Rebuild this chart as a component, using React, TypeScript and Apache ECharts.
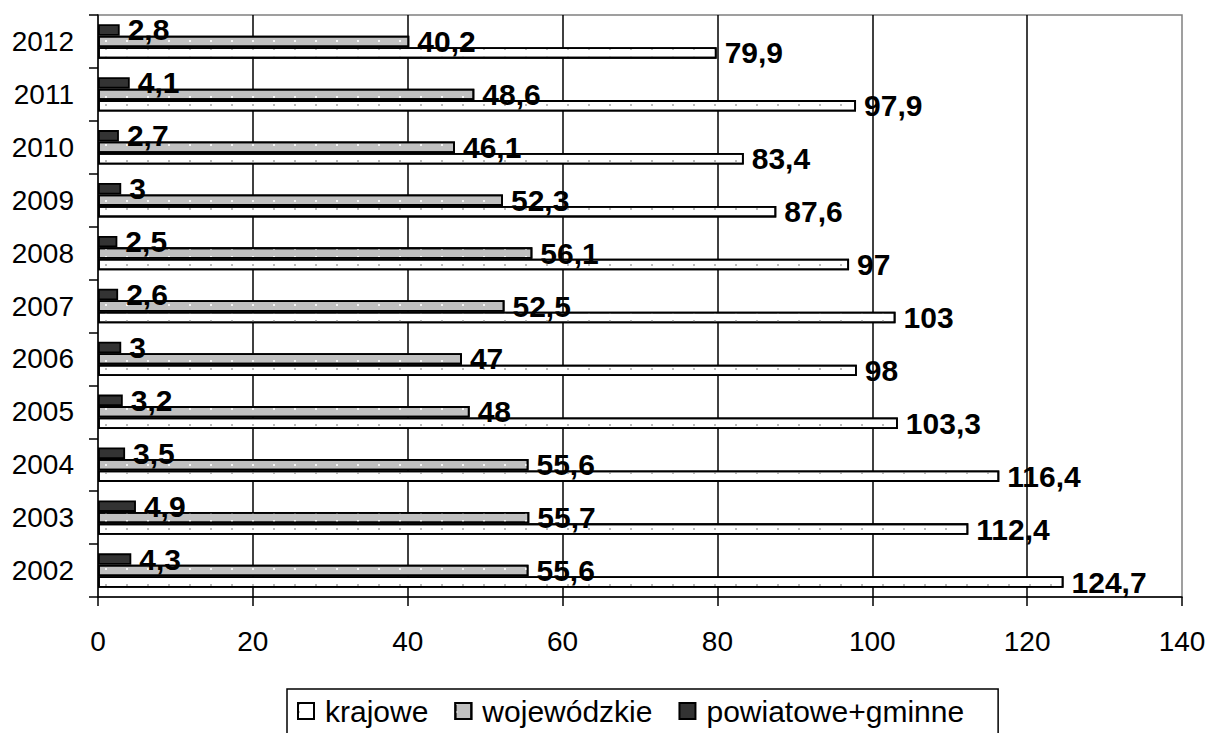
import React, { useEffect, useRef } from "react";
import * as echarts from "echarts";

const years = ["2002", "2003", "2004", "2005", "2006", "2007", "2008", "2009", "2010", "2011", "2012"];
const krajowe = [124.7, 112.4, 116.4, 103.3, 98, 103, 97, 87.6, 83.4, 97.9, 79.9];
const wojewodzkie = [55.6, 55.7, 55.6, 48, 47, 52.5, 56.1, 52.3, 46.1, 48.6, 40.2];
const powiatowe = [4.3, 4.9, 3.5, 3.2, 3, 2.6, 2.5, 3, 2.7, 4.1, 2.8];
const seriesNames = ["krajowe", "wojewódzkie", "powiatowe+gminne"];

const FONT = "'Liberation Sans', Arial, sans-serif";

export default function App() {
  const ref = useRef<HTMLDivElement>(null);
  useEffect(() => {
    const chart = echarts.init(ref.current!, null, { renderer: "svg" });
    const label = {
      show: true,
      position: "right",
      distance: 8,
      color: "#000",
      fontFamily: FONT,
      fontSize: 30,
      fontWeight: "bold",
      formatter: (p: any) => String(p.value).replace(".", ","),
    };
    const mk = (name: string, data: number[], color: string, decal?: any) => ({
      name,
      type: "bar",
      data,
      barGap: "0%",
      barCategoryGap: "35%",
      itemStyle: { color, borderColor: "#000", borderWidth: 1.8, decal },
      label,
    });
    chart.setOption({
      animation: false,
      backgroundColor: "#fff",
      textStyle: { fontFamily: FONT },
      grid: {
        left: 98,
        right: 29,
        top: 15,
        bottom: 136,
        show: true,
        borderColor: "#808080",
        borderWidth: 1.5,
        backgroundColor: "transparent",
      },
      legend: {
        data: seriesNames,
        left: 287,
        top: 689,
        orient: "horizontal",
        itemWidth: 16,
        itemHeight: 16,
        itemGap: 26,
        borderColor: "#000",
        borderWidth: 1.5,
        borderRadius: 0,
        padding: [7, 34, 20, 10],
        icon: "rect",
        textStyle: { fontFamily: FONT, fontSize: 30, color: "#000", padding: [0, 0, 0, 6] },
      },
      xAxis: {
        type: "value",
        min: 0,
        max: 140,
        interval: 20,
        axisLine: { show: true, lineStyle: { color: "#000", width: 1.5 } },
        axisTick: { show: true, length: 9, lineStyle: { color: "#000", width: 1.5 } },
        axisLabel: { color: "#000", fontSize: 28, fontFamily: FONT, margin: 30 },
        splitLine: {
          show: true,
          showMinLine: false,
          showMaxLine: false,
          lineStyle: { color: "#000", width: 1.5 },
        },
      },
      yAxis: {
        type: "category",
        data: years,
        axisLine: { show: true, lineStyle: { color: "#000", width: 1.5 } },
        axisTick: { show: true, length: 9, lineStyle: { color: "#000", width: 1.5 } },
        axisLabel: { color: "#000", fontSize: 28, fontFamily: FONT, margin: 24 },
        splitLine: { show: false },
      },
      series: [
        mk(seriesNames[2], powiatowe, "#333333"),
        mk(seriesNames[1], wojewodzkie, "#c0c0c0", {
          symbol: "rect",
          symbolSize: 1,
          color: "rgba(255,255,255,0.85)",
          dashArrayX: [2, 19],
          dashArrayY: [2, 6],
        }),
        mk(seriesNames[0], krajowe, "#ffffff", {
          symbol: "rect",
          symbolSize: 1,
          color: "rgba(170,170,170,0.8)",
          dashArrayX: [2, 19],
          dashArrayY: [2, 6],
        }),
      ],
    });
    return () => chart.dispose();
  }, []);
  return (
    <div
      ref={ref}
      style={{ position: "fixed", left: 0, top: 0, width: 1211, height: 733 }}
    />
  );
}
